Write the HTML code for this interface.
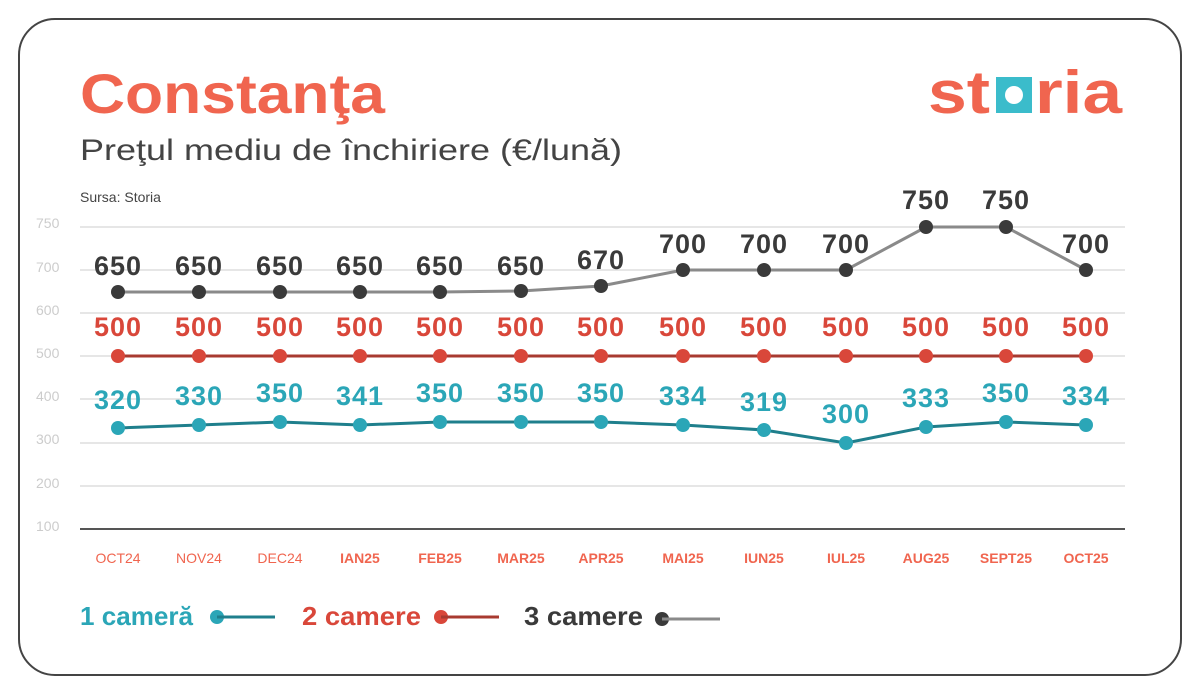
<!DOCTYPE html>
<html><head><meta charset="utf-8"><style>
body{margin:0;background:#fff;}
svg{display:block;font-family:"Liberation Sans",sans-serif;}
</style></head><body>
<svg width="1200" height="694" viewBox="0 0 1200 694">
<rect x="19" y="19" width="1162" height="656" rx="36" fill="#fff" stroke="#444" stroke-width="2"/>
<text x="80" y="113" font-size="56" font-weight="bold" fill="#f0654f" textLength="305" lengthAdjust="spacingAndGlyphs">Constanţa</text>
<text x="80" y="160" font-size="30" fill="#444" textLength="542" lengthAdjust="spacingAndGlyphs">Preţul mediu de închiriere (€/lună)</text>
<text x="80" y="202" font-size="14" fill="#444">Sursa: Storia</text>
<!-- logo -->
<text x="928" y="113" font-size="60" font-weight="bold" fill="#f0654f" textLength="62" lengthAdjust="spacingAndGlyphs">st</text>
<rect x="996" y="77" width="36" height="36" fill="#3bbccb"/>
<circle cx="1014" cy="95" r="9" fill="#fff"/>
<text x="1035" y="113" font-size="60" font-weight="bold" fill="#f0654f" textLength="87" lengthAdjust="spacingAndGlyphs">ria</text>
<!-- grid -->
<g stroke="#ddd" stroke-width="1.5">
<line x1="80" y1="227" x2="1125" y2="227"/><line x1="80" y1="270" x2="1125" y2="270"/>
<line x1="80" y1="313" x2="1125" y2="313"/><line x1="80" y1="356" x2="1125" y2="356"/>
<line x1="80" y1="399" x2="1125" y2="399"/><line x1="80" y1="443" x2="1125" y2="443"/>
<line x1="80" y1="486" x2="1125" y2="486"/>
</g>
<line x1="80" y1="529" x2="1125" y2="529" stroke="#555" stroke-width="2"/>
<g font-size="14" fill="#ccc">
<text x="36" y="228">750</text><text x="36" y="272">700</text><text x="36" y="315">600</text>
<text x="36" y="358">500</text><text x="36" y="401">400</text><text x="36" y="444">300</text>
<text x="36" y="488">200</text><text x="36" y="531">100</text>
</g>
<g font-size="14" fill="#f0654f" text-anchor="middle">
<text x="118" y="563">OCT24</text><text x="199" y="563">NOV24</text><text x="280" y="563">DEC24</text>
<g font-weight="bold"><text x="360" y="563">IAN25</text><text x="440" y="563">FEB25</text><text x="521" y="563">MAR25</text>
<text x="601" y="563">APR25</text><text x="683" y="563">MAI25</text><text x="764" y="563">IUN25</text>
<text x="846" y="563">IUL25</text><text x="926" y="563">AUG25</text><text x="1006" y="563">SEPT25</text><text x="1086" y="563">OCT25</text></g>
</g>
<!-- 3 camere -->
<polyline fill="none" stroke="#8a8a8a" stroke-width="3" points="118,292 199,292 280,292 360,292 440,292 521,291 601,286 683,270 764,270 846,270 926,227 1006,227 1086,270"/>
<g fill="#3a3a3a"><circle cx="118" cy="292" r="7"/><circle cx="199" cy="292" r="7"/><circle cx="280" cy="292" r="7"/><circle cx="360" cy="292" r="7"/><circle cx="440" cy="292" r="7"/><circle cx="521" cy="291" r="7"/><circle cx="601" cy="286" r="7"/><circle cx="683" cy="270" r="7"/><circle cx="764" cy="270" r="7"/><circle cx="846" cy="270" r="7"/><circle cx="926" cy="227" r="7"/><circle cx="1006" cy="227" r="7"/><circle cx="1086" cy="270" r="7"/></g>
<g font-size="27" font-weight="bold" fill="#3a3a3a" text-anchor="middle" letter-spacing="1">
<text x="118" y="275">650</text><text x="199" y="275">650</text><text x="280" y="275">650</text><text x="360" y="275">650</text><text x="440" y="275">650</text><text x="521" y="275">650</text><text x="601" y="269">670</text><text x="683" y="253">700</text><text x="764" y="253">700</text><text x="846" y="253">700</text><text x="926" y="209">750</text><text x="1006" y="209">750</text><text x="1086" y="253">700</text>
</g>
<!-- 2 camere -->
<line x1="118" y1="356" x2="1086" y2="356" stroke="#a83a30" stroke-width="3"/>
<g fill="#d9473a"><circle cx="118" cy="356" r="7"/><circle cx="199" cy="356" r="7"/><circle cx="280" cy="356" r="7"/><circle cx="360" cy="356" r="7"/><circle cx="440" cy="356" r="7"/><circle cx="521" cy="356" r="7"/><circle cx="601" cy="356" r="7"/><circle cx="683" cy="356" r="7"/><circle cx="764" cy="356" r="7"/><circle cx="846" cy="356" r="7"/><circle cx="926" cy="356" r="7"/><circle cx="1006" cy="356" r="7"/><circle cx="1086" cy="356" r="7"/></g>
<g font-size="27" font-weight="bold" fill="#d9473a" text-anchor="middle" letter-spacing="1">
<text x="118" y="336">500</text><text x="199" y="336">500</text><text x="280" y="336">500</text><text x="360" y="336">500</text><text x="440" y="336">500</text><text x="521" y="336">500</text><text x="601" y="336">500</text><text x="683" y="336">500</text><text x="764" y="336">500</text><text x="846" y="336">500</text><text x="926" y="336">500</text><text x="1006" y="336">500</text><text x="1086" y="336">500</text>
</g>
<!-- 1 camera -->
<polyline fill="none" stroke="#1f7f8c" stroke-width="3" points="118,428 199,425 280,422 360,425 440,422 521,422 601,422 683,425 764,430 846,443 926,427 1006,422 1086,425"/>
<g fill="#2ba6b7"><circle cx="118" cy="428" r="7"/><circle cx="199" cy="425" r="7"/><circle cx="280" cy="422" r="7"/><circle cx="360" cy="425" r="7"/><circle cx="440" cy="422" r="7"/><circle cx="521" cy="422" r="7"/><circle cx="601" cy="422" r="7"/><circle cx="683" cy="425" r="7"/><circle cx="764" cy="430" r="7"/><circle cx="846" cy="443" r="7"/><circle cx="926" cy="427" r="7"/><circle cx="1006" cy="422" r="7"/><circle cx="1086" cy="425" r="7"/></g>
<g font-size="27" font-weight="bold" fill="#2ba6b7" text-anchor="middle" letter-spacing="1">
<text x="118" y="409">320</text><text x="199" y="405">330</text><text x="280" y="402">350</text><text x="360" y="405">341</text><text x="440" y="402">350</text><text x="521" y="402">350</text><text x="601" y="402">350</text><text x="683" y="405">334</text><text x="764" y="411">319</text><text x="846" y="423">300</text><text x="926" y="407">333</text><text x="1006" y="402">350</text><text x="1086" y="405">334</text>
</g>
<!-- legend -->
<text x="80" y="625" font-size="26" font-weight="bold" fill="#2ba6b7" textLength="113" lengthAdjust="spacingAndGlyphs">1 cameră</text>
<circle cx="217" cy="617" r="7" fill="#2ba6b7"/><line x1="217" y1="617" x2="275" y2="617" stroke="#1f7f8c" stroke-width="3"/>
<text x="302" y="625" font-size="26" font-weight="bold" fill="#d9473a" textLength="119" lengthAdjust="spacingAndGlyphs">2 camere</text>
<circle cx="441" cy="617" r="7" fill="#d9473a"/><line x1="441" y1="617" x2="499" y2="617" stroke="#a83a30" stroke-width="3"/>
<text x="524" y="625" font-size="26" font-weight="bold" fill="#3a3a3a" textLength="119" lengthAdjust="spacingAndGlyphs">3 camere</text>
<circle cx="662" cy="619" r="7" fill="#3a3a3a"/><line x1="662" y1="619" x2="720" y2="619" stroke="#8a8a8a" stroke-width="3"/>
</svg>
</body></html>
